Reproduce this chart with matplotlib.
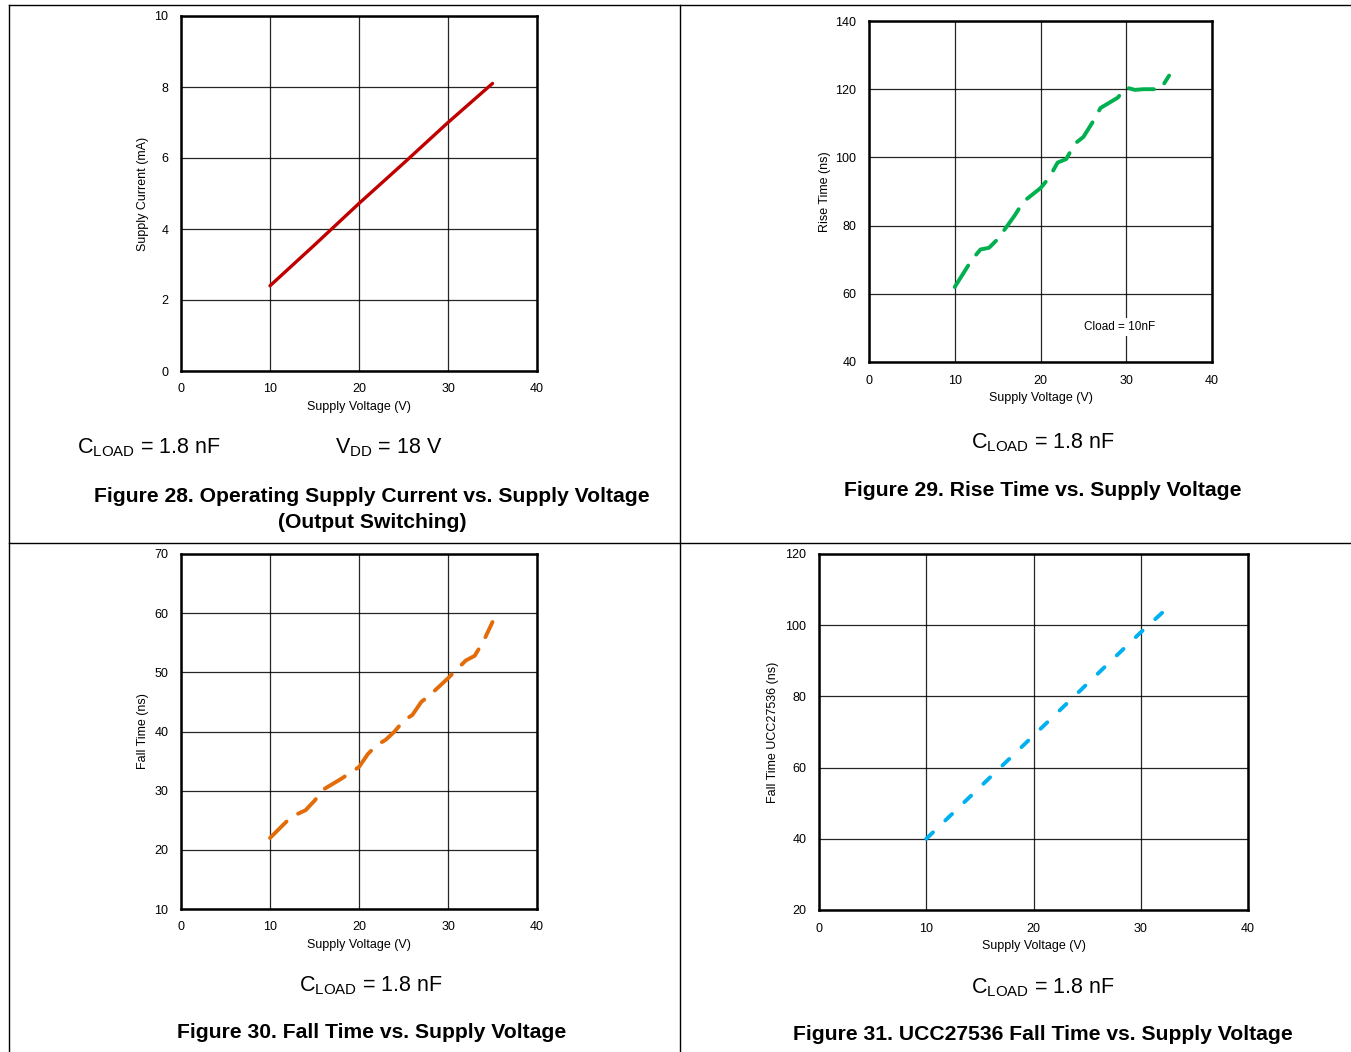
import matplotlib
matplotlib.use("Agg")
import matplotlib.pyplot as plt
from matplotlib.lines import Line2D

W, H = 1351, 1052

# ── data ──────────────────────────────────────────────────────────────────────
cur_v = [10, 15, 20, 25, 30, 35]
cur_ma = [2.4, 3.55, 4.72, 5.85, 7.0, 8.1]

rise_v = [10, 11, 12, 13, 14, 15, 16, 17, 18, 19, 20, 21, 22, 23, 24, 25, 26,
          27, 28, 29, 30, 31, 32, 33, 34, 35]
rise_ns = [62, 66, 70, 73, 73.5, 76, 79.5, 83, 87, 89, 91, 94, 98.5, 99.5, 104,
           106, 110, 114.5, 116, 117.5, 120.5, 119.8, 120, 120, 120, 124]

fall_v = [10, 11, 12, 13, 14, 15, 16, 17, 18, 19, 20, 21, 22, 23, 24, 25, 26,
          27, 28, 29, 30, 31, 32, 33, 34, 35]
fall_ns = [22, 23.5, 25, 26, 26.7, 28.3, 30.2, 31.1, 32, 33, 34, 36.2, 37.7,
           38.6, 40, 41.8, 42.8, 45, 46.2, 47.6, 49, 50.5, 52, 52.8, 55.3, 58.5]

fall2_v = [10, 15, 20, 25, 30, 32]
fall2_ns = [40, 54.5, 69, 83.5, 98, 103.5]

x_ticks = [0, 10, 20, 30, 40]

NARROW = ["Liberation Sans Narrow", "Liberation Sans", "DejaVu Sans"]
plt.rcParams["font.family"] = ["Liberation Sans", "DejaVu Sans"]
plt.rcParams["mathtext.fontset"] = "custom"
plt.rcParams["mathtext.rm"] = "Liberation Sans"

fig = plt.figure(figsize=(W / 100, H / 100), dpi=100, facecolor="white")


def rect(l, t, r, b):
    return [l / W, 1 - b / H, (r - l) / W, (b - t) / H]


def panel(box, ylim, yticks, ylabel, xlabel_y, ylabel_x):
    ax = fig.add_axes(rect(*box))
    ax.set_xlim(0, 40)
    ax.set_ylim(*ylim)
    ax.set_xticks(x_ticks)
    ax.set_yticks(yticks)
    ax.grid(True, color="black", linewidth=0.9, alpha=0.85)
    ax.set_axisbelow(True)
    for s in ax.spines.values():
        s.set_linewidth(1.8)
        s.set_color("black")
    ax.tick_params(length=0, labelsize=9, pad=9)
    # axis titles placed in pixels
    l, t, r, b = box
    fig.text(((l + r) / 2) / W, 1 - xlabel_y / H, "Supply Voltage (V)",
             ha="center", va="center", fontsize=9)
    fig.text(ylabel_x / W, 1 - ((t + b) / 2) / H, ylabel, rotation=90,
             ha="center", va="center", fontsize=9)
    return ax


def ftext(x, y, s, size, bold=False):
    fig.text(x / W, 1 - y / H, s, ha="center", va="center", fontsize=size,
             family=NARROW, fontweight="bold" if bold else "normal")


# ── panel frames ──────────────────────────────────────────────────────────────
for xs, ys in [([9, 1351], [5, 5]), ([9, 1351], [543, 543]),
               ([9, 9], [5, 1052]), ([680, 680], [5, 1052])]:
    fig.add_artist(Line2D([x / W for x in xs], [1 - y / H for y in ys],
                          color="black", linewidth=1.0))

# ── Figure 28 ────────────────────────────────────────────────────────────────
ax = panel((181, 16, 537, 371), (0, 10), [0, 2, 4, 6, 8, 10],
           "Supply Current (mA)", 407, 143)
ax.plot(cur_v, cur_ma, color="#c00000", linewidth=2.4, solid_capstyle="round")
ftext(149, 448, "C$_{\\mathrm{LOAD}}$ = 1.8 nF", 15.5)
ftext(389, 448, "V$_{\\mathrm{DD}}$ = 18 V", 15.5)
ftext(372, 496, "Figure 28. Operating Supply Current vs. Supply Voltage", 15.2, True)
ftext(372, 523, "(Output Switching)", 15.2, True)

# ── Figure 29 ────────────────────────────────────────────────────────────────
ax = panel((869, 21, 1212, 362), (40, 140), [40, 60, 80, 100, 120, 140],
           "Rise Time (ns)", 398, 825)
ax.plot(rise_v, rise_ns, color="#00b050", linewidth=2.8,
        dashes=(6.5, 3.5), dash_capstyle="round")
ax.text(29.2, 50.3, "Cload = 10nF", ha="center", va="center", fontsize=8.5,
        bbox=dict(facecolor="white", edgecolor="none", pad=2))
ftext(1043, 443, "C$_{\\mathrm{LOAD}}$ = 1.8 nF", 15.5)
ftext(1043, 490, "Figure 29. Rise Time vs. Supply Voltage", 15.2, True)

# ── Figure 30 ────────────────────────────────────────────────────────────────
ax = panel((181, 554, 537, 909), (10, 70), [10, 20, 30, 40, 50, 60, 70],
           "Fall Time (ns)", 945, 143)
ax.plot(fall_v, fall_ns, color="#e36c09", linewidth=2.8,
        dashes=(6.0, 3.6), dash_capstyle="round")
ftext(371, 986, "C$_{\\mathrm{LOAD}}$ = 1.8 nF", 15.5)
ftext(372, 1033, "Figure 30. Fall Time vs. Supply Voltage", 15.2, True)

# ── Figure 31 ────────────────────────────────────────────────────────────────
ax = panel((819, 554, 1248, 910), (20, 120), [20, 40, 60, 80, 100, 120],
           "Fall Time UCC27536 (ns)", 946, 773)
ax.plot(fall2_v, fall2_ns, color="#00b0f0", linewidth=2.8,
        dashes=(2.4, 4.4), dash_capstyle="round")
ftext(1043, 988, "C$_{\\mathrm{LOAD}}$ = 1.8 nF", 15.5)
ftext(1043, 1035, "Figure 31. UCC27536 Fall Time vs. Supply Voltage", 15.2, True)

fig.savefig("out.png", dpi=100, facecolor="white")
